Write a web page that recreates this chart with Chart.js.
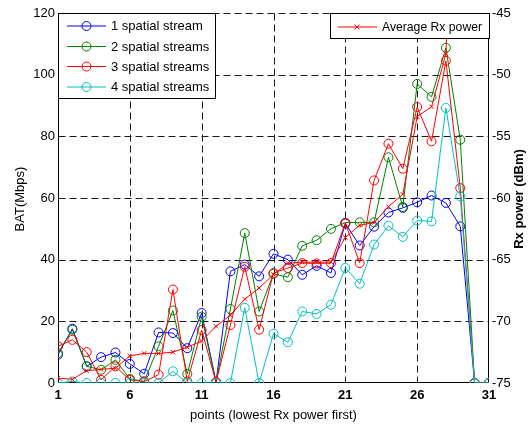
<!DOCTYPE html>
<html>
<head>
<meta charset="utf-8">
<script src="https://cdn.jsdelivr.net/npm/chart.js@4.4.1/dist/chart.umd.min.js"></script>
<style>
  html, body { margin: 0; padding: 0; background: #fff; }
  #wrap { width: 530px; height: 426px; position: relative; }
</style>
</head>
<body>
<div id="wrap"><canvas id="c" width="530" height="426"></canvas></div>
<script>
// Measurement points, sorted by received power (lowest first)
const points = [1,2,3,4,5,6,7,8,9,10,11,12,13,14,15,16,17,18,19,20,21,22,23,24,25,26,27,28,29,30,31];

// Throughput (Mbps) per number of spatial streams
const oneStream   = [9.2,17.6,5.4,8.4,9.9,6.2,3.0,16.4,16.2,11.3,22.7,0.3,36.2,38.4,34.6,41.9,40.0,35.1,38.0,35.7,51.7,44.6,50.7,55.3,56.8,58.6,60.8,58.4,50.8,0,0];
const twoStreams  = [9.7,17.3,5.4,4.3,7.5,1.3,0.5,11.9,23.5,2.9,21.5,0.3,24.0,48.6,23.2,35.4,34.3,44.5,46.3,50.0,52.0,52.1,52.1,73.2,57.1,97.0,92.8,108.7,78.9,0,0];
const threeStreams= [11.9,14.0,10.0,1.0,5.4,1.0,0.5,2.7,30.3,0.5,17.2,0.3,18.8,37.7,17.3,35.7,37.3,38.9,38.8,38.9,51.9,38.9,65.7,77.6,69.5,89.5,78.4,104.5,63.2,0,0];
const fourStreams = [0,0.5,0,0,0,0,0,0,3.8,0,0,0,0,24.4,0,16.0,13.2,23.2,22.4,25.4,37.3,32.2,44.9,51.0,47.4,52.7,52.4,89.2,60.5,0,0];

// Average received power (dBm), right axis
const avgRxPower  = [-74.6,-74.7,-74.0,-73.9,-73.8,-72.8,-72.6,-72.6,-72.5,-72.1,-71.6,-70.4,-69.5,-68.2,-67.3,-66.2,-65.3,-65.2,-65.2,-65.2,-63.2,-62.2,-62.0,-60.7,-59.7,-53.4,-52.6,-48.3,-20];

// Tick labels
const xTicks = [1,6,11,16,21,26,31];
const batTicks = [0,20,40,60,80,100,120];
const rxTicks = [-75,-70,-65,-60,-55,-50,-45];

const streamLabels = ['1 spatial stream','2 spatial streams','3 spatial streams','4 spatial streams'];
const avgLabel = 'Average Rx power';
const xTitle = 'points (lowest Rx power first)';
const yTitle = 'BAT(Mbps)';
const y2Title = 'Rx power (dBm)';

const colors = ['#0000ff','#008000','#ff0000','#00bfbf'];
const FONT = '"Liberation Sans", Arial, Helvetica, sans-serif';

const toXY = (vals) => vals.map((v, i) => ({ x: points[i], y: v }));

function streamDataset(label, vals, color, order) {
  return {
    label, data: toXY(vals), yAxisID: 'y',
    borderColor: color, backgroundColor: 'rgba(0,0,0,0)',
    borderWidth: 1, pointStyle: 'circle', pointRadius: 4.5,
    pointBorderWidth: 1, pointBorderColor: color,
    pointBackgroundColor: 'rgba(0,0,0,0)', tension: 0, order
  };
}

const datasets = [
  {
    label: avgLabel, data: toXY(avgRxPower), yAxisID: 'y2',
    borderColor: '#ff0000', backgroundColor: 'rgba(0,0,0,0)',
    borderWidth: 1, pointStyle: 'crossRot', pointRadius: 3,
    pointBorderWidth: 1, pointBorderColor: '#ff0000', tension: 0, order: 0, clip: 0
  },
  streamDataset(streamLabels[3], fourStreams, colors[3], 1),
  streamDataset(streamLabels[2], threeStreams, colors[2], 2),
  streamDataset(streamLabels[1], twoStreams, colors[1], 3),
  streamDataset(streamLabels[0], oneStream, colors[0], 4)
];

// Grid, frame, legends and axis titles
const decorations = {
  id: 'decorations',
  beforeDatasetsDraw(chart) {
    const { ctx, chartArea: a, scales } = chart;
    const L = Math.round(a.left) + 0.5, R = Math.round(a.right) - 0.5;
    const T = Math.round(a.top) + 0.5, B = Math.round(a.bottom) - 0.5;
    ctx.save();
    ctx.strokeStyle = '#1a1a1a';
    ctx.lineWidth = 1;
    ctx.setLineDash([7, 4]);
    batTicks.forEach(v => {
      if (v === batTicks[0]) return;
      const y = Math.round(scales.y.getPixelForValue(v)) + 0.5;
      ctx.beginPath(); ctx.moveTo(L, y); ctx.lineTo(R, y); ctx.stroke();
    });
    xTicks.forEach(v => {
      if (v === xTicks[0] || v === xTicks[xTicks.length - 1]) return;
      const x = Math.round(scales.x.getPixelForValue(v)) + 0.5;
      ctx.beginPath(); ctx.moveTo(x, T); ctx.lineTo(x, B); ctx.stroke();
    });
    ctx.setLineDash([]);
    ctx.strokeStyle = '#000';
    ctx.beginPath();
    ctx.moveTo(L, T); ctx.lineTo(L, B); ctx.lineTo(R, B); ctx.lineTo(R, T);
    ctx.stroke();
    ctx.restore();
  },
  afterDatasetsDraw(chart) {
    const { ctx } = chart;
    ctx.save();
    ctx.font = '13px ' + FONT;
    ctx.textBaseline = 'middle';
    ctx.textAlign = 'left';
    ctx.lineWidth = 1;

    // stream legend
    ctx.fillStyle = '#fff';
    ctx.fillRect(58.5, 13.5, 157, 85);
    ctx.strokeStyle = '#000';
    ctx.strokeRect(58.5, 13.5, 157, 85);
    const rows = [26, 46.5, 66.5, 87];
    streamLabels.forEach((lab, i) => {
      const y = rows[i];
      ctx.strokeStyle = colors[i];
      ctx.beginPath(); ctx.moveTo(67, y); ctx.lineTo(106, y); ctx.stroke();
      ctx.beginPath(); ctx.arc(86.5, y, 4.5, 0, Math.PI * 2); ctx.stroke();
      ctx.fillStyle = '#000';
      ctx.fillText(lab, 111, y + 0.5);
    });

    // power legend
    ctx.fillStyle = '#fff';
    ctx.fillRect(330.5, 13.5, 159, 25);
    ctx.strokeStyle = '#000';
    ctx.strokeRect(330.5, 13.5, 159, 25);
    const py = 27;
    ctx.strokeStyle = '#ff0000';
    ctx.beginPath(); ctx.moveTo(338, py); ctx.lineTo(377, py); ctx.stroke();
    ctx.beginPath();
    ctx.moveTo(354.5, py - 2.5); ctx.lineTo(359.5, py + 2.5);
    ctx.moveTo(354.5, py + 2.5); ctx.lineTo(359.5, py - 2.5);
    ctx.stroke();
    ctx.fillStyle = '#000';
    ctx.font = '12.2px ' + FONT;
    ctx.fillText(avgLabel, 382, py + 0.5);
    ctx.restore();
  },
  afterDraw(chart) {
    const { ctx, chartArea: a } = chart;
    ctx.save();
    ctx.fillStyle = '#000';
    ctx.textAlign = 'center';
    ctx.textBaseline = 'middle';
    ctx.font = '13px ' + FONT;
    ctx.fillText(xTitle, (a.left + a.right) / 2, 415);

    ctx.save();
    ctx.translate(20, 199);
    ctx.rotate(-Math.PI / 2);
    ctx.fillText(yTitle, 0, 0);
    ctx.restore();

    ctx.save();
    ctx.font = 'bold 13px ' + FONT;
    ctx.translate(519, 199);
    ctx.rotate(-Math.PI / 2);
    ctx.fillText(y2Title, 0, 0);
    ctx.restore();
    ctx.restore();
  }
};

new Chart(document.getElementById('c'), {
  type: 'line',
  data: { datasets },
  options: {
    responsive: false,
    animation: false,
    devicePixelRatio: 1,
    layout: { padding: { top: 13, left: 0, right: 0, bottom: 0 } },
    plugins: { legend: { display: false }, tooltip: { enabled: false } },
    scales: {
      x: {
        type: 'linear', min: 1, max: 31,
        afterFit: s => { s.height = 43; },
        afterBuildTicks: s => { s.ticks = xTicks.map(v => ({ value: v })); },
        ticks: { color: '#000', padding: 5, maxRotation: 0, font: { family: FONT, size: 13, weight: 'bold' } },
        grid: { display: false, drawTicks: false }, border: { display: false }
      },
      y: {
        type: 'linear', position: 'left', min: 0, max: 120,
        afterFit: s => { s.width = 58; },
        afterBuildTicks: s => { s.ticks = batTicks.map(v => ({ value: v })); },
        ticks: { color: '#000', padding: 3, font: { family: FONT, size: 13 } },
        grid: { display: false, drawTicks: false }, border: { display: false }
      },
      y2: {
        type: 'linear', position: 'right', min: -75, max: -45,
        afterFit: s => { s.width = 41; },
        afterBuildTicks: s => { s.ticks = rxTicks.map(v => ({ value: v })); },
        ticks: { color: '#000', padding: 3, font: { family: FONT, size: 13 } },
        grid: { display: false, drawTicks: false }, border: { display: false }
      }
    }
  },
  plugins: [decorations]
});
</script>
</body>
</html>
